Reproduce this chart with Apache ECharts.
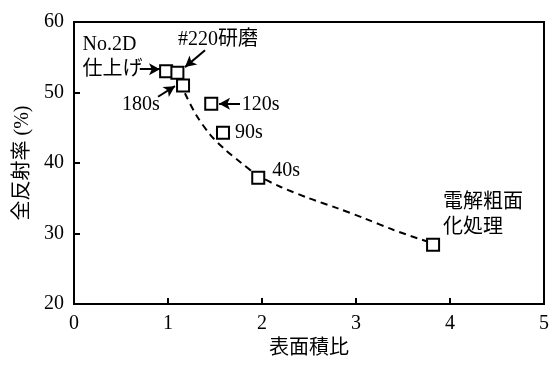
<!DOCTYPE html>
<html>
<head>
<meta charset="utf-8">
<script src="https://cdn.jsdelivr.net/npm/echarts@6/dist/echarts.min.js"></script>
<style>html,body{margin:0;padding:0;background:#fff;}#c{width:558px;height:365px;}</style>
</head>
<body>
<div id="c"></div>
<script>
// ---- data ----
const pointNames = ['No.2D仕上げ', '#220研磨', '180s', '120s', '90s', '40s', '電解粗面化処理'];
const areaRatio = [0.98, 1.10, 1.16, 1.46, 1.585, 1.96, 3.82];
const reflectance = [53.0, 52.8, 51.0, 48.4, 44.3, 37.9, 28.4];
const labelTexts = ['No.2D\n仕上げ', '#220研磨', '180s', '120s', '90s', '40s', '電解粗面\n化処理'];
// dashed trend curve
const curveX = [1.18, 1.30, 1.45, 1.60, 1.78, 1.96, 2.20, 2.50, 2.80, 3.10, 3.40, 3.75];
const curveY = [49.9, 46.8, 44.0, 42.0, 40.0, 38.2, 36.6, 35.0, 33.6, 32.1, 30.5, 28.9];
// annotation arrows [fromX, fromY, toX, toY]
const arrows = [
  [0.70, 53.3, 0.915, 53.3],
  [1.394, 56.0, 1.181, 53.6],
  [0.894, 49.4, 1.074, 50.9],
  [1.766, 48.4, 1.543, 48.4]
];
const xTicks = [0, 1, 2, 3, 4, 5];
const yTicks = [20, 30, 40, 50, 60];

// ---- styles ----
const FONT = "'Liberation Serif', 'Noto Sans CJK JP', serif";
const labelOffsets = [[-83.5, -14], [0.5, -33], [-61, 19.5], [30.5, 1], [12, 0], [14, -7], [10, -30]];

const chart = echarts.init(document.getElementById('c'), null, {renderer: 'canvas'});
const scatterData = areaRatio.map((x, i) => ({
  name: pointNames[i],
  value: [x, reflectance[i]],
  label: {
    show: true,
    formatter: labelTexts[i],
    position: 'inside',
    align: 'left',
    verticalAlign: 'middle',
    offset: labelOffsets[i],
    color: '#000',
    fontSize: 20,
    fontFamily: FONT,
    lineHeight: 25
  }
}));

const option = {
  animation: false,
  backgroundColor: '#fff',
  grid: {left: 74, right: 14, top: 22, bottom: 61, show: true, borderColor: '#000', borderWidth: 2, backgroundColor: 'transparent'},
  xAxis: {
    type: 'value', min: xTicks[0], max: xTicks[xTicks.length - 1], interval: 1,
    name: '表面積比', nameLocation: 'middle', nameGap: 33,
    nameTextStyle: {color: '#000', fontSize: 20, fontFamily: FONT},
    axisLine: {show: true, lineStyle: {color: '#000', width: 2}},
    axisTick: {show: true, inside: true, length: 6, lineStyle: {color: '#000', width: 2}},
    axisLabel: {color: '#000', fontSize: 20, fontFamily: FONT, margin: 10},
    splitLine: {show: false}
  },
  yAxis: {
    type: 'value', min: yTicks[0], max: yTicks[yTicks.length - 1], interval: 10,
    name: '全反射率 (%)', nameLocation: 'middle', nameGap: 40,
    nameTextStyle: {color: '#000', fontSize: 20, fontFamily: FONT},
    axisLine: {show: true, lineStyle: {color: '#000', width: 2}},
    axisTick: {show: true, inside: true, length: 6, lineStyle: {color: '#000', width: 2}},
    axisLabel: {color: '#000', fontSize: 20, fontFamily: FONT, margin: 10},
    splitLine: {show: false}
  },
  series: [
    {
      type: 'line',
      data: curveX.map((x, i) => [x, curveY[i]]),
      smooth: 0.3,
      showSymbol: false,
      symbol: 'none',
      lineStyle: {color: '#000', width: 2, type: [7, 5]},
      z: 1
    },
    {
      type: 'scatter',
      data: scatterData,
      symbol: 'rect',
      symbolSize: 12,
      itemStyle: {color: '#fff', borderColor: '#000', borderWidth: 2, opacity: 1},
      z: 3,
      markLine: {
        silent: true,
        animation: false,
        symbol: ['none', 'arrow'],
        symbolSize: [9, 11],
        label: {show: false},
        lineStyle: {color: '#000', width: 2, type: 'solid'},
        data: arrows.map(a => [{coord: [a[0], a[1]]}, {coord: [a[2], a[3]]}])
      }
    }
  ]
};
chart.setOption(option);
</script>
</body>
</html>
